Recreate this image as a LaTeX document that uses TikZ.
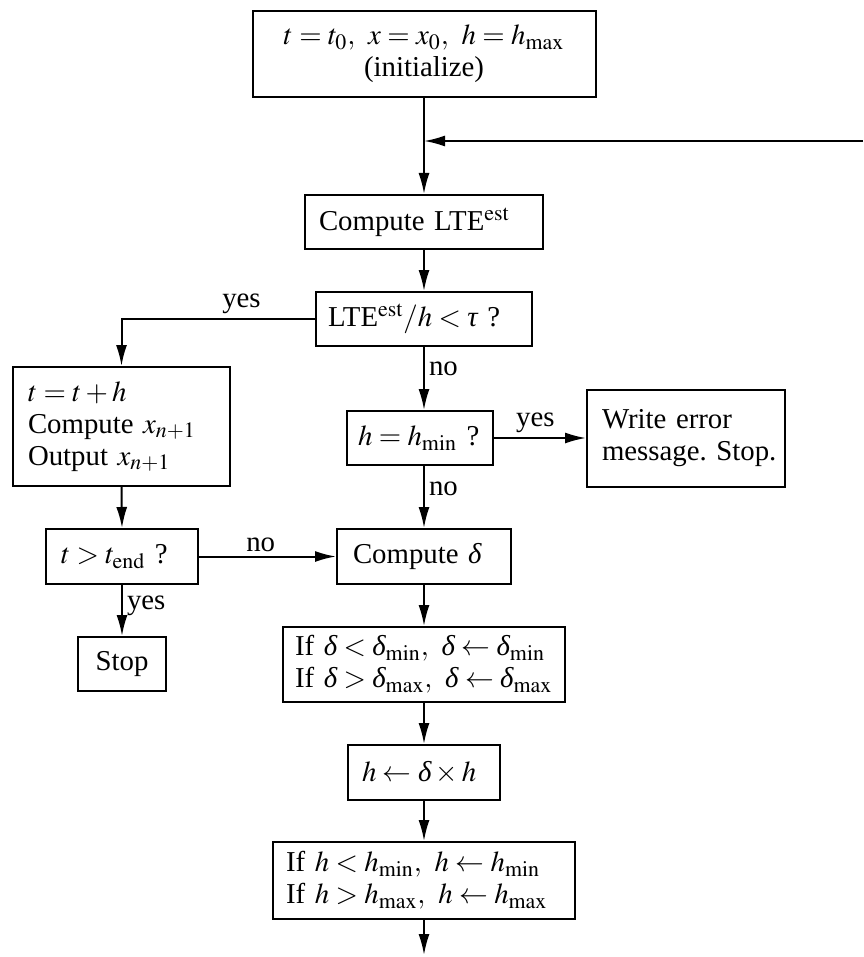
\documentclass[tikz,border=0pt]{standalone}
\usepackage{mathptmx}
\usepackage[no-math]{fontspec}
\setmainfont{Liberation Serif}
\usetikzlibrary{arrows.meta}
\newcommand{\gdl}{\mathord{\mbox{\itshape δ}}}
\newcommand{\gtau}{\mathord{\mbox{\itshape τ}}}
\frenchspacing
\tikzset{
  bx/.style={draw, line width=1pt, inner ysep=0pt, align=left,
    font=\fontsize{14.4pt}{16pt}\selectfont},
  arr/.style={line width=1pt, -{Latex[length=10.5pt,width=5.5pt]}},
  lbl/.style={inner sep=2pt, font=\fontsize{14.4pt}{16pt}\selectfont}
}
\begin{document}
\begin{tikzpicture}[x=0.5pt,y=-0.5pt]
\useasboundingbox (0,0) rectangle (863,957);
\node[bx, align=center, text width=161.5pt, inner xsep=5pt, minimum height=43pt] (init) at (424,54)
  {\mbox{$t = t_0,\ x = x_0,\ h = h_{\mathrm{max}}$}\\(initialize)};
\node[bx, text width=105pt, inner xsep=7pt, minimum height=27pt] (lte) at (424,222)
  {\mbox{Compute LTE$^{\mathrm{est}}$}};
\node[bx, text width=96pt, inner xsep=6pt, minimum height=27pt] (test) at (424,319)
  {\mbox{LTE$^{\mathrm{est}}/h < \gtau$ ?}};
\node[bx, text width=93.5pt, inner xsep=7.5pt, minimum height=59.5pt] (left) at (121.5,426.5)
  {\mbox{$t = t + h$}\\\mbox{Compute $x_{n+1}$}\\\mbox{Output $x_{n+1}$}};
\node[bx, text width=62pt, inner xsep=5.5pt, minimum height=27pt] (hmin) at (420,438)
  {\mbox{$h = h_{\mathrm{min}}$ ?}};
\node[bx, text width=84pt, inner xsep=7.5pt, minimum height=48.5pt] (err) at (686,438.5)
  {\mbox{Write error}\\\mbox{message. Stop.}};
\node[bx, text width=61pt, inner xsep=7.5pt, minimum height=27.5pt] (tend) at (122,556.5)
  {\mbox{$t > t_{\mathrm{end}}$ ?}};
\node[bx, text width=71pt, inner xsep=8pt, minimum height=27.5pt] (delta) at (424,556.5)
  {\mbox{Compute $\gdl$}};
\node[bx, align=center, text width=40pt, inner xsep=2pt, minimum height=27pt] (stop) at (122,664)
  {Stop};
\node[bx, text width=129pt, inner xsep=6pt, minimum height=37.5pt] (ifd) at (424,664.5)
  {\mbox{If $\gdl < \gdl_{\mathrm{min}},\ \gdl \leftarrow \gdl_{\mathrm{min}}$}\\\mbox{If $\gdl > \gdl_{\mathrm{max}},\ \gdl \leftarrow \gdl_{\mathrm{max}}$}};
\node[bx, text width=62pt, inner xsep=7pt, minimum height=27.5pt] (hd) at (424,772.5)
  {\mbox{$h \leftarrow \gdl \times h$}};
\node[bx, text width=138pt, inner xsep=6.5pt, minimum height=38.5pt] (ifh) at (424,880.5)
  {\mbox{If $h < h_{\mathrm{min}},\ h \leftarrow h_{\mathrm{min}}$}\\\mbox{If $h > h_{\mathrm{max}},\ h \leftarrow h_{\mathrm{max}}$}};
\coordinate (fb) at (863,141);
\coordinate (out) at (424,955);

\draw[arr] (init.south) -- (lte.north);
\draw[arr] (fb) -- (fb -| lte.north);
\draw[arr] (lte.south) -- (test.north);
\draw[arr] (test.west) -| node[lbl, pos=0.19, above] {yes} (left.north);
\draw[arr] (test.south) -- node[lbl, pos=0.35, right] {no} (test.south |- hmin.north);
\draw[arr] (hmin.east) -- node[lbl, pos=0.45, above] {yes} (hmin.east -| err.west);
\draw[arr] (test.south |- hmin.south) -- node[lbl, pos=0.375, right] {no} (delta.north);
\draw[arr] (left.south) -- (tend.north);
\draw[arr] (tend.east) -- node[lbl, pos=0.45, above] {no} (delta.west);
\draw[arr] (tend.south) -- node[lbl, pos=0.4, right] {yes} (stop.north);
\draw[arr] (delta.south) -- (ifd.north);
\draw[arr] (ifd.south) -- (hd.north);
\draw[arr] (hd.south) -- (ifh.north);
\draw[arr] (ifh.south) -- (out);
\end{tikzpicture}
\end{document}
